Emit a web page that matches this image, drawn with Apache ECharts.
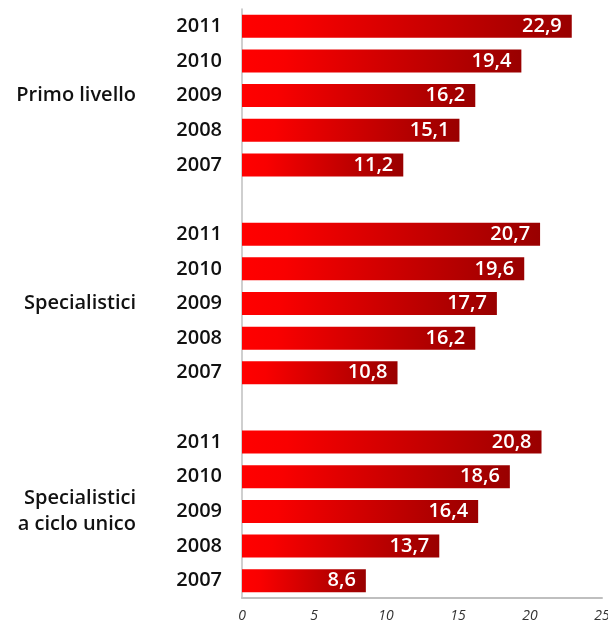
<!DOCTYPE html>
<html>
<head>
<meta charset="utf-8">
<script src="https://cdn.jsdelivr.net/npm/echarts@6/dist/echarts.min.js"></script>
<style>
  html, body { margin: 0; padding: 0; background: #fff; }
  #chart { width: 608px; height: 623px; }
</style>
</head>
<body>
<div id="chart"></div>
<script>
// Degree types, years (listed top to bottom) and the value for each year
var groups = ['Primo livello', 'Specialistici', 'Specialistici\na ciclo unico'];
var years = ['2011', '2010', '2009', '2008', '2007'];
var primoLivello = [22.9, 19.4, 16.2, 15.1, 11.2];
var specialistici = [20.7, 19.6, 17.7, 16.2, 10.8];
var cicloUnico = [20.8, 18.6, 16.4, 13.7, 8.6];
var xTicks = [0, 5, 10, 15, 20, 25];

var groupValues = [primoLivello, specialistici, cicloUnico];

// Flatten into one category axis with an empty row between groups
var yearCats = [];
var groupCats = [];
var values = [];
groupValues.forEach(function (vals, g) {
  if (g > 0) {
    yearCats.push('');
    groupCats.push('');
    values.push('-');
  }
  years.forEach(function (y, i) {
    yearCats.push(y);
    groupCats.push(i === 2 ? groups[g] : '');
    values.push(vals[i]);
  });
});

var fmt = function (v) { return v.toFixed(1).replace('.', ','); };

var chart = echarts.init(document.getElementById('chart'));
chart.setOption({
  animation: false,
  grid: { left: 242, right: 6, top: 9, bottom: 25, containLabel: false, outerBoundsMode: 'none' },
  xAxis: {
    type: 'value',
    min: xTicks[0],
    max: xTicks[xTicks.length - 1],
    interval: 5,
    axisLine: { show: true, lineStyle: { color: '#BFBFBF', width: 2 } },
    axisTick: { show: false },
    splitLine: { show: false },
    axisLabel: {
      fontFamily: 'Open Sans',
      fontStyle: 'italic',
      fontSize: 14,
      color: '#333',
      margin: 11
    }
  },
  yAxis: [
    {
      type: 'category',
      inverse: true,
      data: yearCats,
      axisLine: { show: true, lineStyle: { color: '#BFBFBF', width: 1.5 } },
      axisTick: { show: false },
      axisLabel: {
        interval: 0,
        fontFamily: 'Open Sans',
        fontWeight: 600,
        fontSize: 20,
        color: '#111',
        margin: 20
      }
    },
    {
      type: 'category',
      inverse: true,
      position: 'left',
      offset: 100,
      data: groupCats,
      axisLine: { show: false },
      axisTick: { show: false },
      axisLabel: {
        interval: 0,
        fontFamily: 'Open Sans',
        fontWeight: 600,
        fontSize: 20,
        lineHeight: 26,
        align: 'right',
        color: '#111',
        margin: 6
      }
    }
  ],
  series: [{
    type: 'bar',
    yAxisIndex: 0,
    data: values,
    barWidth: 23,
    itemStyle: {
      color: new echarts.graphic.LinearGradient(0, 0, 1, 0, [
        { offset: 0, color: '#FF0000' },
        { offset: 0.15, color: '#F90000' },
        { offset: 1, color: '#990000' }
      ])
    },
    label: {
      show: true,
      position: 'insideRight',
      distance: 10,
      color: '#fff',
      fontFamily: 'Open Sans',
      fontWeight: 600,
      fontSize: 20,
      formatter: function (p) { return fmt(p.value); }
    }
  }]
});
</script>
</body>
</html>
